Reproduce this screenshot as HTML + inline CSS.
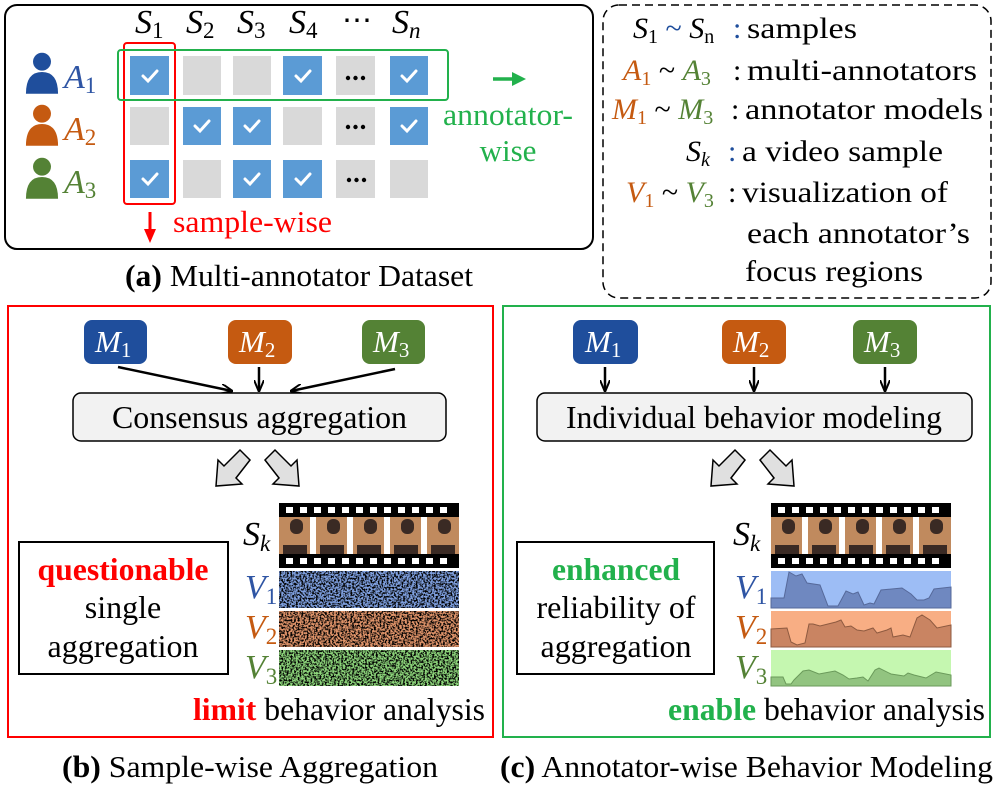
<!DOCTYPE html>
<html><head><meta charset="utf-8"><style>
body{margin:0;background:#fff}
svg{display:block}
text{font-family:"Liberation Serif",serif}
.it{font-style:italic}
</style></head><body>
<svg width="997" height="793" viewBox="0 0 997 793" xmlns="http://www.w3.org/2000/svg">
<defs>
<filter id="nz" x="0" y="0" width="100%" height="100%"><feTurbulence type="fractalNoise" baseFrequency="0.55" numOctaves="2" seed="3"/><feColorMatrix type="matrix" values="0 0 0 0 0  0 0 0 0 0  0 0 0 0 0  -4.5 0 0 0 2.6"/></filter>
<marker id="ah" markerWidth="12" markerHeight="10" refX="11" refY="5" orient="auto" markerUnits="userSpaceOnUse"><path d="M0,0 L12,5 L0,10" fill="none" stroke="#000" stroke-width="2"/></marker>
<symbol id="person" viewBox="0 0 36 44"><circle cx="18" cy="10" r="9.5"/><path d="M1,44 Q1,21 18,21 Q35,21 35,44z"/></symbol>
<g id="film">
<rect x="0" y="0" width="180" height="14" fill="#000"/>
<rect x="0" y="51" width="180" height="14" fill="#000"/>
<g fill="#fff"><rect x="7" y="4" width="7" height="6"/><rect x="21" y="4" width="7" height="6"/><rect x="35" y="4" width="7" height="6"/><rect x="49" y="4" width="7" height="6"/><rect x="63" y="4" width="7" height="6"/><rect x="77" y="4" width="7" height="6"/><rect x="91" y="4" width="7" height="6"/><rect x="105" y="4" width="7" height="6"/><rect x="119" y="4" width="7" height="6"/><rect x="133" y="4" width="7" height="6"/><rect x="147" y="4" width="7" height="6"/><rect x="161" y="4" width="7" height="6"/>
<rect x="7" y="55" width="7" height="6"/><rect x="21" y="55" width="7" height="6"/><rect x="35" y="55" width="7" height="6"/><rect x="49" y="55" width="7" height="6"/><rect x="63" y="55" width="7" height="6"/><rect x="77" y="55" width="7" height="6"/><rect x="91" y="55" width="7" height="6"/><rect x="105" y="55" width="7" height="6"/><rect x="119" y="55" width="7" height="6"/><rect x="133" y="55" width="7" height="6"/><rect x="147" y="55" width="7" height="6"/><rect x="161" y="55" width="7" height="6"/></g>
<g fill="#c08a5e"><rect x="0" y="14" width="31" height="37"/><rect x="37" y="14" width="31" height="37"/><rect x="74" y="14" width="31" height="37"/><rect x="111" y="14" width="31" height="37"/><rect x="148" y="14" width="32" height="37"/></g>
<g fill="#3a2a24"><rect x="11" y="16" width="13" height="15" rx="6"/><rect x="48" y="16" width="13" height="15" rx="6"/><rect x="85" y="16" width="13" height="15" rx="6"/><rect x="122" y="16" width="13" height="15" rx="6"/><rect x="159" y="16" width="13" height="15" rx="6"/>
<rect x="4" y="42" width="24" height="9"/><rect x="41" y="42" width="24" height="9"/><rect x="78" y="42" width="24" height="9"/><rect x="115" y="42" width="24" height="9"/><rect x="152" y="42" width="24" height="9"/></g>
</g>
</defs>

<!-- Panel a -->
<rect x="5" y="5" width="588" height="244" rx="12" fill="none" stroke="#000" stroke-width="2"/>
<g font-size="34" class="it">
<text x="135" y="33">S<tspan font-size="23" dy="5" font-style="normal">1</tspan></text>
<text x="186" y="33">S<tspan font-size="23" dy="5" font-style="normal">2</tspan></text>
<text x="237" y="33">S<tspan font-size="23" dy="5" font-style="normal">3</tspan></text>
<text x="289" y="33">S<tspan font-size="23" dy="5" font-style="normal">4</tspan></text>
<text x="342" y="30" font-style="normal" font-size="30">⋯</text>
<text x="392" y="33">S<tspan font-size="23" dy="5">n</tspan></text>
</g>
<g fill="#d9d9d9">
<rect x="130" y="56" width="39" height="39"/><rect x="183" y="56" width="38" height="39"/><rect x="233" y="56" width="38" height="39"/><rect x="283" y="56" width="39" height="39"/><rect x="336" y="56" width="39" height="39"/><rect x="390" y="56" width="38" height="39"/>
<rect x="130" y="107" width="39" height="38"/><rect x="183" y="107" width="38" height="38"/><rect x="233" y="107" width="38" height="38"/><rect x="283" y="107" width="39" height="38"/><rect x="336" y="107" width="39" height="38"/><rect x="390" y="107" width="38" height="38"/>
<rect x="130" y="160" width="39" height="38"/><rect x="183" y="160" width="38" height="38"/><rect x="233" y="160" width="38" height="38"/><rect x="283" y="160" width="39" height="38"/><rect x="336" y="160" width="39" height="38"/><rect x="390" y="160" width="38" height="38"/>
</g>
<g fill="#5b9bd5">
<rect x="130" y="56" width="39" height="39"/><rect x="283" y="56" width="39" height="39"/><rect x="390" y="56" width="38" height="39"/>
<rect x="183" y="107" width="38" height="38"/><rect x="233" y="107" width="38" height="38"/><rect x="390" y="107" width="38" height="38"/>
<rect x="130" y="160" width="39" height="38"/><rect x="233" y="160" width="38" height="38"/><rect x="283" y="160" width="39" height="38"/>
</g>
<g fill="none" stroke="#fff" stroke-width="3" stroke-linecap="round">
<path d="M143,76 l5,5 l9,-10"/><path d="M296,76 l5,5 l9,-10"/><path d="M402,76 l5,5 l9,-10"/>
<path d="M195,126 l5,5 l9,-10"/><path d="M245,126 l5,5 l9,-10"/><path d="M402,126 l5,5 l9,-10"/>
<path d="M143,179 l5,5 l9,-10"/><path d="M245,179 l5,5 l9,-10"/><path d="M296,179 l5,5 l9,-10"/>
</g>
<g fill="#000"><circle cx="348" cy="78" r="2.2"/><circle cx="355.5" cy="78" r="2.2"/><circle cx="363" cy="78" r="2.2"/>
<circle cx="348" cy="127" r="2.2"/><circle cx="355.5" cy="127" r="2.2"/><circle cx="363" cy="127" r="2.2"/>
<circle cx="349" cy="180" r="2.2"/><circle cx="356.5" cy="180" r="2.2"/><circle cx="364" cy="180" r="2.2"/></g>
<rect x="124" y="43" width="51" height="161" rx="3" fill="none" stroke="#ff0000" stroke-width="2"/>
<rect x="118" y="50" width="330" height="50" rx="3" fill="none" stroke="#22b14c" stroke-width="2"/>
<use href="#person" x="25" y="52" width="34" height="42" fill="#1f4e9c"/>
<use href="#person" x="25" y="104" width="34" height="42" fill="#c55a11"/>
<use href="#person" x="25" y="157" width="34" height="42" fill="#548235"/>
<g class="it" font-size="34">
<text x="64" y="88" fill="#2f55a4">A<tspan font-size="23" dy="5" font-style="normal">1</tspan></text>
<text x="64" y="140" fill="#c55a11">A<tspan font-size="23" dy="5" font-style="normal">2</tspan></text>
<text x="64" y="193" fill="#548235">A<tspan font-size="23" dy="5" font-style="normal">3</tspan></text>
</g>
<line x1="493" y1="79" x2="514" y2="79" stroke="#22b14c" stroke-width="3.5"/><path d="M512,72 L526,79 L512,86z" fill="#22b14c"/>
<text x="443" y="125" font-size="31" fill="#22b14c" textLength="130" lengthAdjust="spacingAndGlyphs">annotator-</text>
<text x="508" y="161" font-size="31" fill="#22b14c" text-anchor="middle">wise</text>
<line x1="150" y1="212" x2="150" y2="232" stroke="#ff0000" stroke-width="3"/><path d="M144,229 L150,243 L156,229z" fill="#ff0000"/>
<text x="173" y="232" font-size="31" fill="#ff0000" textLength="159" lengthAdjust="spacingAndGlyphs">sample-wise</text>
<text x="125" y="286" font-size="31" textLength="348" lengthAdjust="spacingAndGlyphs"><tspan font-weight="bold">(a)</tspan> Multi-annotator Dataset</text>

<!-- Legend -->
<rect x="603" y="5" width="388" height="293" rx="16" fill="none" stroke="#000" stroke-width="1.5" stroke-dasharray="8,5"/>
<g font-size="30">
<text x="633" y="38" class="it">S<tspan font-size="20" dy="5" font-style="normal">1</tspan><tspan dy="-5" fill="#1f4e9c" font-style="normal"> ~ </tspan>S<tspan font-size="20" dy="5" font-style="normal">n</tspan></text>
<text x="733" y="38" fill="#1f4e9c">:</text><text x="747" y="38" textLength="110" lengthAdjust="spacingAndGlyphs">samples</text>
<text x="623" y="80" class="it"><tspan fill="#c55a11">A</tspan><tspan font-size="20" dy="5" font-style="normal" fill="#c55a11">1</tspan><tspan dy="-5" font-style="normal"> ~ </tspan><tspan fill="#548235">A</tspan><tspan font-size="20" dy="5" font-style="normal" fill="#548235">3</tspan></text>
<text x="733" y="80">:</text><text x="747" y="80" textLength="230" lengthAdjust="spacingAndGlyphs">multi-annotators</text>
<text x="612" y="119" class="it"><tspan fill="#c55a11">M</tspan><tspan font-size="20" dy="5" font-style="normal" fill="#c55a11">1</tspan><tspan dy="-5" font-style="normal"> ~ </tspan><tspan fill="#548235">M</tspan><tspan font-size="20" dy="5" font-style="normal" fill="#548235">3</tspan></text>
<text x="731" y="119">:</text><text x="745" y="119" textLength="238" lengthAdjust="spacingAndGlyphs">annotator models</text>
<text x="686" y="161" class="it">S<tspan font-size="20" dy="5">k</tspan></text>
<text x="728" y="161" fill="#1f4e9c">:</text><text x="742" y="161" textLength="201" lengthAdjust="spacingAndGlyphs">a video sample</text>
<text x="626" y="202" class="it"><tspan fill="#c55a11">V</tspan><tspan font-size="20" dy="5" font-style="normal" fill="#c55a11">1</tspan><tspan dy="-5" font-style="normal"> ~ </tspan><tspan fill="#548235">V</tspan><tspan font-size="20" dy="5" font-style="normal" fill="#548235">3</tspan></text>
<text x="728" y="202">:</text><text x="742" y="202" textLength="206" lengthAdjust="spacingAndGlyphs">visualization of</text>
<text x="747" y="243" textLength="223" lengthAdjust="spacingAndGlyphs">each annotator’s</text>
<text x="745" y="281" textLength="178" lengthAdjust="spacingAndGlyphs">focus regions</text>
</g>

<!-- Panels b,c frames -->
<rect x="8" y="306" width="485" height="431" fill="none" stroke="#ff0000" stroke-width="2"/>
<rect x="503" y="306" width="487" height="431" fill="none" stroke="#22b14c" stroke-width="2"/>
<g class="it" font-size="31" fill="#fff">
<rect x="84" y="320" width="63" height="44" rx="8" fill="#1f4e9c"/><text x="95" y="352">M<tspan font-size="21" dy="5" font-style="normal">1</tspan></text>
<rect x="228" y="320" width="64" height="44" rx="8" fill="#c55a11"/><text x="239" y="352">M<tspan font-size="21" dy="5" font-style="normal">2</tspan></text>
<rect x="362" y="320" width="63" height="44" rx="8" fill="#548235"/><text x="373" y="352">M<tspan font-size="21" dy="5" font-style="normal">3</tspan></text>
<rect x="573" y="320" width="65" height="44" rx="8" fill="#1f4e9c"/><text x="585" y="352">M<tspan font-size="21" dy="5" font-style="normal">1</tspan></text>
<rect x="722" y="320" width="64" height="44" rx="8" fill="#c55a11"/><text x="733" y="352">M<tspan font-size="21" dy="5" font-style="normal">2</tspan></text>
<rect x="853" y="320" width="64" height="44" rx="8" fill="#548235"/><text x="864" y="352">M<tspan font-size="21" dy="5" font-style="normal">3</tspan></text>
</g>
<g stroke="#000" stroke-width="2.5" marker-end="url(#ah)">
<line x1="118" y1="367" x2="232" y2="391"/><line x1="259" y1="367" x2="259" y2="391"/><line x1="395" y1="369" x2="291" y2="391"/>
<line x1="605" y1="367" x2="605" y2="391"/><line x1="754" y1="367" x2="754" y2="391"/><line x1="885" y1="367" x2="885" y2="391"/>
</g>
<rect x="73" y="393" width="373" height="48" rx="8" fill="#f2f2f2" stroke="#000" stroke-width="1.5"/>
<text x="112" y="428" font-size="32" textLength="295" lengthAdjust="spacingAndGlyphs">Consensus aggregation</text>
<rect x="537" y="393" width="435" height="48" rx="8" fill="#f2f2f2" stroke="#000" stroke-width="1.5"/>
<text x="566" y="428" font-size="32" textLength="376" lengthAdjust="spacingAndGlyphs">Individual behavior modeling</text>
<!-- fat arrows -->
<g fill="#e0e0e0" stroke="#000" stroke-width="1.5">
<path d="M0,0 l10,-10 l16,16 l6,-6 l2,26 l-26,-2 l6,-6z" transform="translate(250,460) scale(-1,1)"/>
<path d="M0,0 l10,-10 l16,16 l6,-6 l2,26 l-26,-2 l6,-6z" transform="translate(265,460)"/>
<path d="M0,0 l10,-10 l16,16 l6,-6 l2,26 l-26,-2 l6,-6z" transform="translate(745,460) scale(-1,1)"/>
<path d="M0,0 l10,-10 l16,16 l6,-6 l2,26 l-26,-2 l6,-6z" transform="translate(760,460)"/>
</g>
<!-- films -->
<use href="#film" x="279" y="503"/>
<use href="#film" x="771" y="503"/>
<g class="it" font-size="34">
<text x="243" y="545">S<tspan font-size="23" dy="6">k</tspan></text>
<text x="245" y="598" fill="#2f55a4">V<tspan font-size="23" dy="6" font-style="normal">1</tspan></text>
<text x="245" y="638" fill="#c55a11">V<tspan font-size="23" dy="6" font-style="normal">2</tspan></text>
<text x="245" y="678" fill="#548235">V<tspan font-size="23" dy="6" font-style="normal">3</tspan></text>
<text x="733" y="545">S<tspan font-size="23" dy="6">k</tspan></text>
<text x="735" y="598" fill="#2f55a4">V<tspan font-size="23" dy="6" font-style="normal">1</tspan></text>
<text x="735" y="638" fill="#c55a11">V<tspan font-size="23" dy="6" font-style="normal">2</tspan></text>
<text x="735" y="678" fill="#548235">V<tspan font-size="23" dy="6" font-style="normal">3</tspan></text>
</g>
<!-- noise bars -->
<rect x="279" y="571" width="180" height="37" fill="#7fa0e0"/><rect x="279" y="571" width="180" height="37" filter="url(#nz)"/>
<rect x="279" y="611" width="180" height="36" fill="#e0946a"/><rect x="279" y="611" width="180" height="36" filter="url(#nz)"/>
<rect x="279" y="650" width="180" height="36" fill="#8cd47a"/><rect x="279" y="650" width="180" height="36" filter="url(#nz)"/>
<!-- chart bars -->
<rect x="771" y="571" width="180" height="37" fill="#9dbdf5"/>
<path d="M771,598 L784,598 L789,572 L796,576 L802,574 L807,583 L820,585 L828,606 L838,606 L846,591 L853,594 L858,592 L864,605 L870,603 L874,604 L881,590 L902,588 L911,594 L917,600 L924,600 L929,598 L934,589 L951,587 L951,608 L771,608z" fill="#6f88c0" stroke="#56699a"/>
<rect x="771" y="611" width="180" height="36" fill="#f8ae84"/>
<path d="M771,629 L787,628 L791,642 L797,645 L805,643 L809,624 L813,624 L820,626 L836,622 L841,620 L845,627 L851,626 L857,630 L864,631 L873,628 L877,633 L887,630 L891,628 L893,637 L903,635 L910,637 L917,618 L922,615 L930,620 L937,628 L951,625 L951,647 L771,647z" fill="#c98462" stroke="#8e5a40"/>
<rect x="771" y="650" width="180" height="36" fill="#c5f7b0"/>
<path d="M771,677 L783,677 L786,684 L791,684 L794,680 L803,671 L809,670 L819,674 L835,671 L843,675 L849,679 L857,678 L863,677 L868,681 L875,670 L879,668 L891,674 L904,676 L908,673 L914,675 L926,678 L936,672 L951,675 L951,686 L771,686z" fill="#92c480" stroke="#6a9a5a"/>
<!-- text boxes -->
<rect x="19" y="542" width="209" height="132" fill="#fff" stroke="#000" stroke-width="2"/>
<text x="123" y="580" font-size="32" fill="#ff0000" font-weight="bold" text-anchor="middle" textLength="171" lengthAdjust="spacingAndGlyphs">questionable</text>
<text x="123" y="618" font-size="32" text-anchor="middle">single</text>
<text x="123" y="657" font-size="32" text-anchor="middle" textLength="151" lengthAdjust="spacingAndGlyphs">aggregation</text>
<rect x="517" y="542" width="197" height="132" fill="#fff" stroke="#000" stroke-width="2"/>
<text x="616" y="580" font-size="32" fill="#22b14c" font-weight="bold" text-anchor="middle" textLength="128" lengthAdjust="spacingAndGlyphs">enhanced</text>
<text x="616" y="618" font-size="32" text-anchor="middle" textLength="159" lengthAdjust="spacingAndGlyphs">reliability of</text>
<text x="616" y="657" font-size="32" text-anchor="middle" textLength="151" lengthAdjust="spacingAndGlyphs">aggregation</text>
<text x="193" y="720" font-size="32" textLength="292" lengthAdjust="spacingAndGlyphs"><tspan fill="#ff0000" font-weight="bold">limit</tspan> behavior analysis</text>
<text x="668" y="720" font-size="32" textLength="317" lengthAdjust="spacingAndGlyphs"><tspan fill="#22b14c" font-weight="bold">enable</tspan> behavior analysis</text>
<text x="62" y="777" font-size="31" textLength="376" lengthAdjust="spacingAndGlyphs"><tspan font-weight="bold">(b)</tspan> Sample-wise Aggregation</text>
<text x="500" y="777" font-size="31" textLength="493" lengthAdjust="spacingAndGlyphs"><tspan font-weight="bold">(c)</tspan> Annotator-wise Behavior Modeling</text>
</svg>
</body></html>
